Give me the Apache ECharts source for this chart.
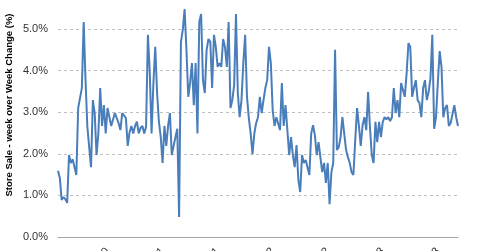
<!DOCTYPE html>
<html>
<head>
<meta charset="utf-8">
<script src="https://cdn.jsdelivr.net/npm/echarts@6/dist/echarts.min.js"></script>
<style>
html,body{margin:0;padding:0;background:#fff;}
#c{width:480px;height:251px;}
</style>
</head>
<body>
<div id="c"></div>
<script>
// Weekly store sales change (%)
const seriesA = [1.59,1.42,0.89,0.96,0.91,0.82,1.97,1.78,1.87,1.85,1.49,3.10,3.34,3.58,5.17,3.77,2.65,2.16,1.68,3.29,
2.98,1.97,2.49,3.58,2.67,3.17,2.49,3.10,3.10,2.67,2.67,2.98,2.98,2.74,2.57,2.98,2.98,2.86,2.19,2.52,
2.67,2.49,2.67,2.77,2.49,2.62,2.67,2.49,2.65,4.86,3.97,2.49,3.70,4.57,3.46,2.77,2.40,1.78,2.67,2.19,
2.67,2.98,1.97,1.97,2.40,2.60,0.48,4.69,4.98,5.48];
const seriesB = [4.50,3.37,3.70,4.18,3.17,4.18,2.49,5.17,5.36,3.77,3.46,4.50,4.76,4.69,3.58,4.86,4.57,4.09,4.18,4.09,
4.76,4.57,4.09,5.17,3.10,3.29,3.65,5.36,3.46,2.88,3.29,4.18,4.86,3.37,2.86,2.49,1.99,2.49,2.74,2.88,
3.37,2.98,3.29,3.58,3.77,4.57,4.18,3.05,2.67,2.88,2.86,2.57,3.70,2.67,3.17,3.13,1.97,2.40,1.97,1.68,
2.21,1.37,1.08,1.97,1.78];
const seriesC = [1.85,1.87,1.49,2.49,2.69,2.45,1.97,2.28,1.92,1.56,1.78,1.30,1.78,0.79,1.56,1.78,4.50,2.09,2.16,2.40,
2.88,2.88,2.09,1.92,1.78,1.56,1.49,2.33,3.10,2.67,2.19,2.69,2.88,2.57,3.49,2.65,1.97,1.78,2.77,2.28,
2.77,2.40,2.77,2.88,2.83,2.88,2.79,2.88,3.58,2.98,3.29,2.88,3.70,3.68,3.37,3.94,4.66,4.57,3.37,3.58,
3.77,3.29,3.22,2.88,3.58,3.77,3.29,3.49,3.82,4.86,2.60,2.88,3.70,4.47,4.09,2.88,3.10,3.17,2.67,2.74,
2.77,3.17,2.88,2.67];
const values = seriesA.concat(seriesB, seriesC);
const categories = values.map((v, i) => 'Week ' + (i + 1));
const tickLabels = ['Jul-10','Jan-11','Jul-11','Jan-12','Jul-12','Jan-13','Jul-13'];
const yTicks = [0, 1, 2, 3, 4, 5, 6];

const chart = echarts.init(document.getElementById('c'), null, {renderer: 'canvas'});
const labelShown = i => (i + 3) % 30 === 0;
chart.setOption({
  animation: false,
  backgroundColor: '#ffffff',
  grid: {left: 58, right: 22, top: -12.6, bottom: 14, containLabel: false, outerBoundsMode: 'none'},
  xAxis: {
    type: 'category',
    data: categories,
    boundaryGap: false,
    axisLine: {show: true, lineStyle: {color: '#a6a6a6', width: 1}},
    axisTick: {show: false},
    splitLine: {show: false},
    axisLabel: {
      interval: (i) => labelShown(i),
      formatter: (v, i) => tickLabels[(i + 3) / 30 - 1] || '',
      rotate: 45,
      margin: 12.5,
      hideOverlap: false,
      fontFamily: 'Liberation Sans, Arial, sans-serif',
      fontSize: 11,
      color: '#333'
    }
  },
  yAxis: {
    type: 'value',
    min: yTicks[0],
    max: yTicks[yTicks.length - 1],
    interval: 1,
    axisLine: {show: false},
    axisTick: {show: false},
    splitLine: {show: true, lineStyle: {color: '#bfbfbf', type: [3, 3], width: 1}},
    axisLabel: {
      margin: 10,
      formatter: v => v.toFixed(1) + '%',
      fontFamily: 'Liberation Sans, Arial, sans-serif',
      fontSize: 11,
      color: '#333'
    }
  },
  graphic: [{
    type: 'text',
    x: 9, y: 105,
    rotation: Math.PI / 2,
    style: {
      text: 'Store Sale - week over Week Change (%)',
      fontFamily: 'Liberation Sans, Arial, sans-serif',
      fontWeight: 'bold',
      fontSize: 9.5,
      fill: '#000',
      align: 'center',
      verticalAlign: 'middle'
    }
  }],
  series: [{
    type: 'line',
    data: values,
    symbol: 'none',
    smooth: false,
    lineStyle: {color: '#4a7ebb', width: 2},
    itemStyle: {color: '#4a7ebb'}
  }]
});
</script>
</body>
</html>
